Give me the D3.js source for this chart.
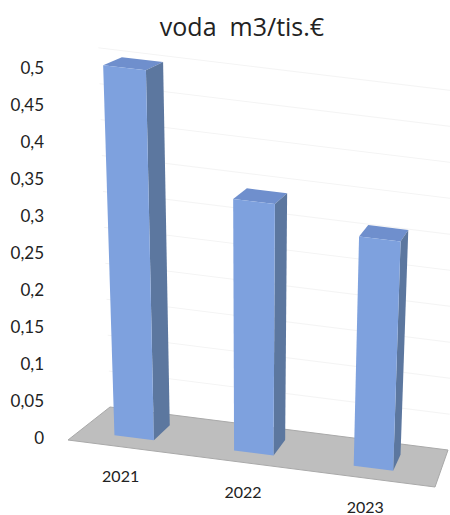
<!DOCTYPE html>
<html>
<head>
<meta charset="utf-8">
<script src="https://cdn.jsdelivr.net/npm/d3@7"></script>
<style>
  body { margin: 0; background: #fff; }
  text { font-family: Lato, "Open Sans", sans-serif; fill: #222; }
</style>
</head>
<body>
<svg id="chart"></svg>
<script>
// data
const categories = ["2021", "2022", "2023"];
const values = [0.5, 0.34, 0.31];
const yDomain = [0, 0.5];
const titleText = "voda  m3/tis.\u20ac";

const width = 450, height = 515;

const svg = d3.select("#chart")
  .attr("width", width)
  .attr("height", height);

// floor corners on screen (front-left, front-right, back-left, back-right)
const floor = { fl: [68, 440], fr: [435, 487], bl: [110, 407], br: [448, 450] };
const wFront = 0.28, wBack = 0.72;   // bar depth inside the floor
const vanishX = 250, lean = 2.25e-4; // vertical lines converge downward
const horizon = 814;                 // depth gets flatter higher up

// value -> pixel height
const y = d3.scaleLinear().domain(yDomain).range([0, 370]);

// category -> position along the floor (0..1)
const x = d3.scaleBand().domain(categories).range([-0.015, 0.985]);
const halfW = x.bandwidth() * 0.165;

const lerp = (a, b, t) => [a[0] + (b[0] - a[0]) * t, a[1] + (b[1] - a[1]) * t];

// u across categories, w into depth, h height in px
function proj(u, w, h) {
  const f = lerp(floor.fl, floor.fr, u);
  const b = lerp(floor.bl, floor.br, u);
  const ref = lerp(f, b, wFront);
  const squash = 1 - h / horizon;
  const px = f[0] + (b[0] - f[0]) * w;
  const py = ref[1] + (b[1] - f[1]) * (w - wFront) * squash - h;
  return [vanishX + (px - vanishX) * (1 + h * lean), py];
}

const poly = pts => "M" + pts.map(p => p.join(",")).join("L") + "Z";

// title
svg.append("text")
  .attr("x", 242)
  .attr("y", 36)
  .attr("text-anchor", "middle")
  .style("font-family", "'Open Sans', Lato, sans-serif")
  .style("font-size", "25px")
  .style("white-space", "pre")
  .attr("xml:space", "preserve")
  .text(titleText);

// faint back wall gridlines
const ticks = y.ticks(10);
svg.append("g")
  .selectAll("path")
  .data(ticks.filter(t => t > 0))
  .join("path")
  .attr("d", t => "M" + proj(0, 1, y(t)).join(",") + "L" + proj(1, 1, y(t)).join(","))
  .attr("fill", "none")
  .attr("stroke", "#f4f4f4")
  .attr("stroke-width", 1);

// floor
svg.append("path")
  .attr("d", poly([proj(0, 0, 0), proj(1, 0, 0), proj(1, 1, 0), proj(0, 1, 0)]))
  .attr("fill", "#bebebe")
  .attr("stroke", "#a9a9a9")
  .attr("stroke-width", 1);

// value axis labels
const fmt = d3.formatLocale({ decimal: ",", thousands: " ", grouping: [3], currency: ["", "\u20ac"] }).format("~g");
svg.append("g")
  .selectAll("text")
  .data(ticks)
  .join("text")
  .attr("x", 44)
  .attr("y", t => floor.fl[1] - y(t) - 2)
  .attr("dy", "0.35em")
  .attr("text-anchor", "end")
  .style("font-size", "17px")
  .text(t => fmt(t));

// bars
const bars = svg.append("g")
  .selectAll("g")
  .data(categories.map((c, i) => ({ cat: c, value: values[i] })))
  .join("g");

bars.each(function(d) {
  const g = d3.select(this);
  const c = x(d.cat) + x.bandwidth() / 2;
  const u0 = c - halfW, u1 = c + halfW, h = y(d.value);

  g.append("path")
    .attr("d", poly([proj(u0, wFront, h), proj(u1, wFront, h), proj(u1, wBack, h), proj(u0, wBack, h)]))
    .attr("fill", "#6f8fcd");
  g.append("path")
    .attr("d", poly([proj(u1, wFront, 0), proj(u1, wBack, 0), proj(u1, wBack, h), proj(u1, wFront, h)]))
    .attr("fill", "#5c779f");
  g.append("path")
    .attr("d", poly([proj(u0, wFront, 0), proj(u1, wFront, 0), proj(u1, wFront, h), proj(u0, wFront, h)]))
    .attr("fill", "#7ea1de");
});

// category labels under the floor
svg.append("g")
  .selectAll("text")
  .data(categories)
  .join("text")
  .attr("x", d => proj(x(d) + x.bandwidth() / 2, 0, 0)[0] - 3)
  .attr("y", d => proj(x(d) + x.bandwidth() / 2, 0, 0)[1] + 35)
  .attr("text-anchor", "middle")
  .style("font-size", "16px")
  .text(d => d);
</script>
</body>
</html>
